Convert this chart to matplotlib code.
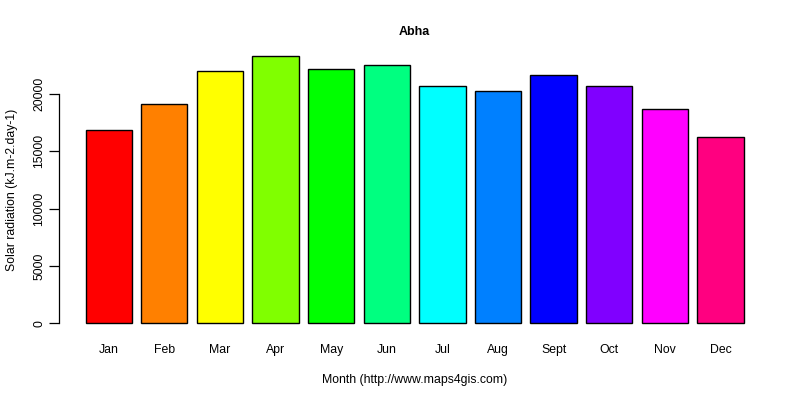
import matplotlib
matplotlib.use("Agg")
import matplotlib.pyplot as plt

plt.rcParams["font.family"] = ["Liberation Sans", "DejaVu Sans"]

months = ["Jan", "Feb", "Mar", "Apr", "May", "Jun", "Jul", "Aug", "Sept", "Oct", "Nov", "Dec"]
radiation = [16900, 19110, 21970, 23360, 22210, 22570, 20710, 20290, 21680, 20710, 18700, 16280]
colors = ["#FF0000", "#FF8000", "#FFFF00", "#80FF00", "#00FF00", "#00FF80",
          "#00FFFF", "#0080FF", "#0000FF", "#8000FF", "#FF00FF", "#FF0080"]

fig = plt.figure(figsize=(8, 4), dpi=100)
ax = fig.add_axes([0.074, 0.165, 0.8885, 0.723])

# R barplot layout: width 1, space 0.2
xpos = [0.7 + 1.2 * i for i in range(len(months))]
ax.bar(xpos, radiation, width=1.0, color=colors, edgecolor="black", linewidth=1.0)

ymax = max(radiation)
ax.set_xlim(-0.368, 14.968)
ax.set_ylim(-0.04 * ymax, ymax * 1.04)

for s in ["top", "right", "bottom"]:
    ax.spines[s].set_visible(False)
ax.spines["left"].set_bounds(0, 20000)
ax.spines["left"].set_linewidth(0.9)

ax.set_yticks([0, 5000, 10000, 15000, 20000])
ax.set_yticklabels(["0", "5000", "10000", "15000", "20000"], rotation=90, va="center")
ax.tick_params(axis="y", length=7, width=0.9, labelsize=8.8, pad=3)
ax.set_xticks(xpos)
ax.set_xticklabels(months)
ax.tick_params(axis="x", length=0, labelsize=8.8, pad=7)

ax.set_title("Abha", fontsize=9, fontweight="bold", pad=7)
ax.set_xlabel("Month (http://www.maps4gis.com)", fontsize=8.8, labelpad=13)
ax.set_ylabel("Solar radiation (kJ.m-2.day-1)", fontsize=8.8, labelpad=11)

fig.savefig("out.png", dpi=100)
